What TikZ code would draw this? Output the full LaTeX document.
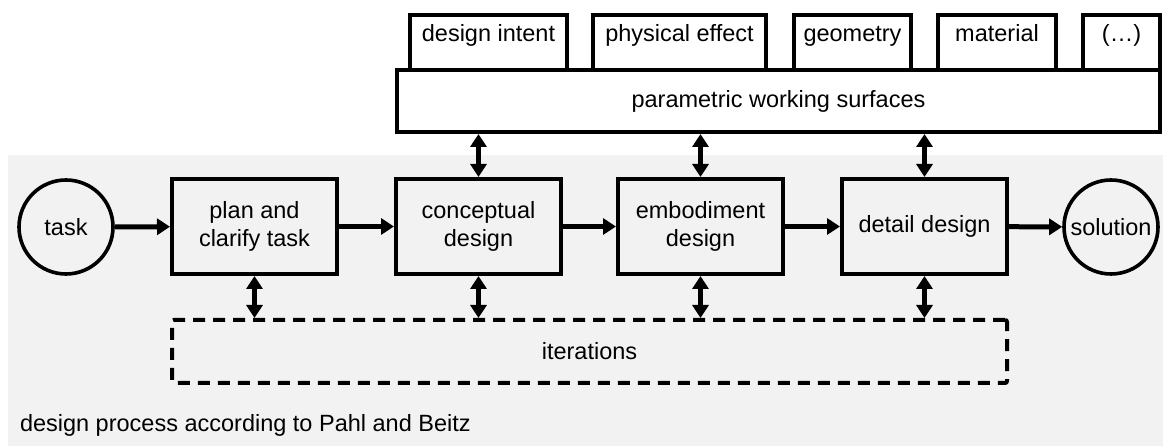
\documentclass[tikz,border=0pt]{standalone}
\usepackage{fontspec}
\setmainfont{Liberation Sans}
\usetikzlibrary{arrows.meta}
\definecolor{bggrey}{HTML}{F2F2F2}
\tikzset{
  base/.style={font=\fontsize{23.5}{28}\selectfont, line width=4pt, inner sep=0pt},
  stepbox/.style={base, draw, rectangle, minimum width=165pt, minimum height=95pt, align=center},
  endcirc/.style={base, draw, line width=3.6pt, circle, minimum size=94pt},
  topbox/.style={base, draw, fill=white, rectangle, anchor=north, text height=27pt, text depth=30pt},
  parbox/.style={base, draw, fill=white, rectangle, minimum width=763pt, minimum height=62pt},
  iterbox/.style={base, draw, rectangle, dash pattern=on 12pt off 8pt, rounded corners=2pt, minimum width=835pt, minimum height=63pt},
  tip/.tip={Triangle[length=13pt,width=16pt]},
  flow/.style={line width=5pt, -tip},
  both/.style={line width=5pt, tip-tip},
}
\begin{document}
\begin{tikzpicture}[x=1pt,y=-1pt]
\useasboundingbox (0,0) rectangle (1163,446);
\fill[bggrey] (8,155) rectangle (1163,446);
% top boxes
\node[topbox, minimum width=157pt] (di) at (488.5,13) {design intent};
\node[topbox, minimum width=173pt] (pe) at (679.5,13) {physical effect};
\node[topbox, minimum width=117pt] (ge) at (852.5,13) {geometry};
\node[topbox, minimum width=118pt] (ma) at (997,13) {material};
\node[topbox, minimum width=77pt] (et) at (1121.5,13) {(…)};
\node[parbox] (par) at (778.5,101) {parametric working surfaces};
% process
\node[endcirc] (task) at (66,227) {task};
\node[stepbox] (plan) at (254.5,226.5) {plan and\\clarify task};
\node[stepbox] (conc) at (478.5,226.5) {conceptual\\design};
\node[stepbox] (emb) at (700.5,226.5) {embodiment\\design};
\node[stepbox] (det) at (924.5,226.5) {detail design};
\node[endcirc] (sol) at (1111,227) {solution};
\node[iterbox] (iter) at (589.5,351.5) {iterations};
\node[base, anchor=west] (cap) at (18,425) {design process according to Pahl and Beitz};
% flow arrows
\draw[flow] (task) -- (plan);
\draw[flow] (plan) -- (conc);
\draw[flow] (conc) -- (emb);
\draw[flow] (emb) -- (det);
\draw[flow] (det) -- (sol);
% upper double arrows
\draw[both] (conc.north |- par.south) -- (conc.north);
\draw[both] (emb.north |- par.south) -- (emb.north);
\draw[both] (det.north |- par.south) -- (det.north);
% lower double arrows
\draw[both] (plan.south) -- (plan.south |- iter.north);
\draw[both] (conc.south) -- (conc.south |- iter.north);
\draw[both] (emb.south) -- (emb.south |- iter.north);
\draw[both] (det.south) -- (det.south |- iter.north);
\end{tikzpicture}
\end{document}
